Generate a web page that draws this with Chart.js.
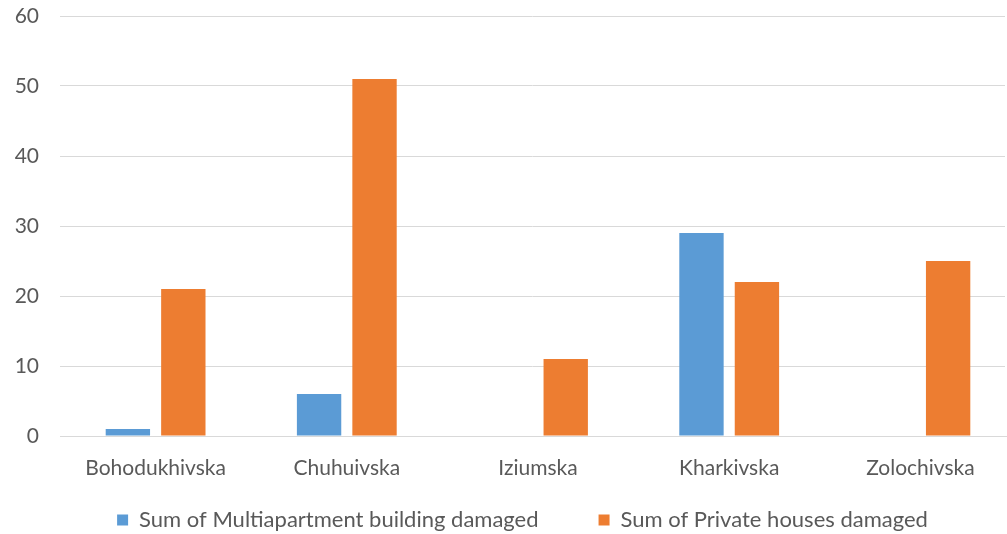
<!DOCTYPE html>
<html><head><meta charset="utf-8">
<script src="https://cdn.jsdelivr.net/npm/chart.js@4"></script>
<style>html,body{margin:0;padding:0;background:#fff;}#wrap{width:1007px;height:534px;}</style>
</head><body><div id="wrap"><canvas id="c" width="1007" height="534"></canvas></div>
<script>
const categories = ["Bohodukhivska","Chuhuivska","Iziumska","Kharkivska","Zolochivska"];
const multiapartment = [1, 6, 0, 29, 0];
const privateHouses = [21, 51, 11, 22, 25];
const seriesNames = ["Sum of Multiapartment building damaged","Sum of Private houses damaged"];
const yTicks = [0,10,20,30,40,50,60];

const FONT = "Lato, 'Open Sans', sans-serif";
const LEGEND_GAP = 60;
const LEGEND_FIT_HEIGHT = 37;
const LEGEND_TOP = 449;
const LEGEND_SHIFT = 20;
const X_AXIS_SPAN = 956;
Chart.defaults.font.family = FONT;
Chart.defaults.color = "#595959";
new Chart(document.getElementById('c'), {
  type: 'bar',
  data: {
    labels: categories,
    datasets: [
      {label: seriesNames[0], data: multiapartment, backgroundColor: '#5B9BD5', categoryPercentage: 0.58, barPercentage: 0.8},
      {label: seriesNames[1], data: privateHouses, backgroundColor: '#ED7D31', categoryPercentage: 0.58, barPercentage: 0.8}
    ]
  },
  options: {
    responsive: false,
    animation: false,
    layout: {padding: {top: 0, right: 2, bottom: 0, left: 0}},
    plugins: {
      legend: {position: 'bottom', labels: {boxWidth: 11, boxHeight: 11, font: {size: 22}, padding: LEGEND_GAP}},
      tooltip: {enabled: false}
    },
    scales: {
      x: {
        grid: {display: false},
        border: {display: true, color: '#d9d9d9'},
        ticks: {font: {size: 21}, padding: 12, color: '#595959'},
        afterFit: s => { s.height = 61; }
      },
      y: {
        min: 0, max: 60,
        afterBuildTicks: s => { s.ticks = yTicks.map(v => ({value: v})); },
        grid: {color: '#d9d9d9', lineWidth: 1, drawTicks: false},
        border: {display: false},
        ticks: {font: {size: 21}, padding: 21, color: '#595959'},
        afterFit: s => { s.width = 60; s.paddingTop = 16; s.paddingBottom = 0; }
      }
    }
  },
  plugins: [{
    id: 'legendPlacement',
    beforeLayout(chart) {
      const lg = chart.legend;
      if (lg && !lg._patched) {
        const f = lg.fit;
        lg.fit = function() { f.call(this); this.height = LEGEND_FIT_HEIGHT; };
        lg._patched = true;
      }
    },
    afterLayout(chart) {
      const lg = chart.legend;
      if (lg) {
        lg.top = LEGEND_TOP; lg.height = lg.bottom - LEGEND_TOP;
        lg.left += LEGEND_SHIFT; lg.right += LEGEND_SHIFT;
      }
      const x = chart.scales.x;
      x.right = x.left + X_AXIS_SPAN; x.width = X_AXIS_SPAN;
      x.configure();
    }
  }]
});
</script></body></html>
